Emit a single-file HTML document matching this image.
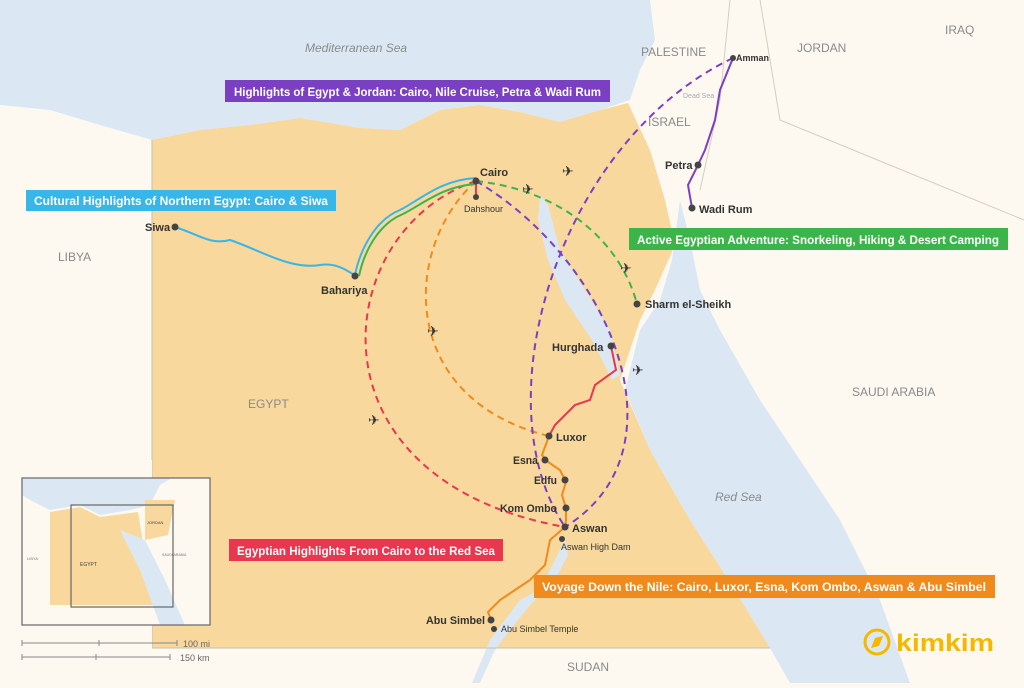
<!DOCTYPE html>
<html><head><meta charset="utf-8"><style>
body{margin:0;width:1024px;height:683px;overflow:hidden;background:#fdf9f1;font-family:"Liberation Sans",sans-serif}
svg text{font-family:"Liberation Sans",sans-serif}
.lb{font-weight:bold;font-size:11px;fill:#333}
.sm{font-size:9px;fill:#333}
.cn{font-size:12px;fill:#8a8a8a}
.box{font-weight:bold;font-size:12px;fill:#fff}
</style></head><body>
<svg width="1024" height="683" viewBox="0 0 1024 683">
<rect width="1024" height="683" fill="#fdf9f1"/>
<path d="M0,0 H650 L655,40 L640,70 L630,100 L600,110 L560,122 L520,112 L480,105 L440,110 L400,130 L360,128 L300,118 L250,125 L200,130 L152,140 L100,125 L50,110 L0,105 Z" fill="#dbe8f4"/>
<path d="M152,140 L200,130 L250,125 L300,118 L360,128 L400,130 L440,110 L480,105 L520,112 L560,122 L600,110 L628,103 L650,150 L665,200 L675,245 L655,290 L640,320 L620,380 L650,450 L690,520 L735,590 L770,648 L152,648 Z" fill="#f8d89d"/>
<path d="M540,195 L548,205 L560,250 L585,290 L610,330 L620,375 L612,380 L592,340 L565,300 L548,260 L538,220 Z" fill="#dbe8f4"/>
<path d="M680,200 L690,240 L700,290 L720,330 L760,400 L800,460 L840,520 L880,600 L910,683 L790,683 L770,648 L735,590 L690,520 L650,450 L625,390 L640,330 L660,300 L672,260 Z" fill="#dbe8f4"/>
<path d="M505,620 L520,600 L540,590 L555,560 L565,540 L568,555 L555,580 L530,605 L510,630 L495,650 L480,683 L472,683 L490,640 Z" fill="#dbe8f4"/>
<path d="M152,140 V648 H770" fill="none" stroke="#c8c0b0" stroke-width="1"/>
<path d="M730,0 L720,100 L700,190 M760,0 L780,120 L1024,220" fill="none" stroke="#d5cdbe" stroke-width="1"/>
<text x="305" y="52" class="cn" font-style="italic" fill="#999">Mediterranean Sea</text>
<text x="641" y="56" class="cn" font-size="11">PALESTINE</text>
<text x="648" y="126" class="cn" font-size="11">ISRAEL</text>
<text x="797" y="52" class="cn">JORDAN</text>
<text x="945" y="34" class="cn">IRAQ</text>
<text x="58" y="261" class="cn">LIBYA</text>
<text x="248" y="408" class="cn">EGYPT</text>
<text x="852" y="396" class="cn">SAUDI ARABIA</text>
<text x="715" y="501" class="cn" font-style="italic">Red Sea</text>
<text x="567" y="671" class="cn">SUDAN</text>
<text x="683" y="98" font-size="7" fill="#aaa">Dead Sea</text>

<g fill="none" stroke-width="2" stroke-dasharray="7,5">
<path d="M476,181 C330,230 300,480 565,527" stroke="#e8374f"/>
<path d="M476,181 C400,250 400,400 549,436" stroke="#f08a1c"/>
<path d="M476,181 C560,190 620,240 637,304" stroke="#3bb54a"/>
<path d="M476,181 C610,260 690,450 565,527" stroke="#7b3fc4"/>
<path d="M733,58 C560,140 480,400 565,527" stroke="#7b3fc4"/>
</g>
<g fill="none" stroke-width="2">
<path d="M175,227 C200,235 210,245 230,240 C260,250 290,270 320,265 C340,262 352,275 355,275" stroke="#38b6e8"/>
<path d="M355,275 C360,250 375,220 400,210 C420,200 440,180 476,178" stroke="#38b6e8"/>
<path d="M359,276 C364,252 378,224 403,214 C423,204 443,186 476,184" stroke="#3bb54a"/>
<path d="M476,181 L476,197" stroke="#e8374f"/>
<path d="M611,346 L616,370 L595,385 L590,400 L575,405 L555,425 L549,436" stroke="#e8374f"/>
<path d="M549,436 L542,455 L548,462 L560,470 L566,482 L562,495 L566,508 L566,520 L565,527 L550,540 L545,565 L530,580 L515,590 L500,600 L488,612 L491,620" stroke="#f08a1c"/>
<path d="M733,58 L720,90 L715,120 L705,150 L698,165 L688,185 L692,208" stroke="#7b3fc4"/>
</g>
<g font-size="14" fill="#333">
<text x="427" y="336">✈</text><text x="368" y="425">✈</text><text x="522" y="194">✈</text>
<text x="562" y="176">✈</text><text x="620" y="273">✈</text><text x="632" y="375">✈</text>
</g>
<g fill="#444">
<circle cx="175" cy="227" r="3.5"/><circle cx="355" cy="276" r="3.5"/><circle cx="476" cy="181" r="3.5"/>
<circle cx="476" cy="197" r="3"/><circle cx="637" cy="304" r="3.5"/><circle cx="611" cy="346" r="3.5"/>
<circle cx="549" cy="436" r="3.5"/><circle cx="545" cy="460" r="3.5"/><circle cx="565" cy="480" r="3.5"/>
<circle cx="566" cy="508" r="3.5"/><circle cx="565" cy="527" r="3.5"/><circle cx="562" cy="539" r="3"/>
<circle cx="491" cy="620" r="3.5"/><circle cx="494" cy="629" r="3"/>
<circle cx="733" cy="58" r="3"/><circle cx="698" cy="165" r="3.5"/><circle cx="692" cy="208" r="3.5"/>
</g>
<g>
<text x="145" y="231" class="lb">Siwa</text>
<text x="321" y="294" class="lb">Bahariya</text>
<text x="480" y="176" class="lb">Cairo</text>
<text x="464" y="212" class="sm">Dahshour</text>
<text x="645" y="308" class="lb">Sharm el-Sheikh</text>
<text x="552" y="351" class="lb">Hurghada</text>
<text x="556" y="441" class="lb">Luxor</text>
<text x="513" y="464" class="lb" textLength="25" lengthAdjust="spacingAndGlyphs">Esna</text>
<text x="534" y="484" class="lb" textLength="23" lengthAdjust="spacingAndGlyphs">Edfu</text>
<text x="500" y="512" class="lb" textLength="57" lengthAdjust="spacingAndGlyphs">Kom Ombo</text>
<text x="572" y="532" class="lb">Aswan</text>
<text x="561" y="550" class="sm">Aswan High Dam</text>
<text x="426" y="624" class="lb" textLength="59" lengthAdjust="spacingAndGlyphs">Abu Simbel</text>
<text x="501" y="632" class="sm">Abu Simbel Temple</text>
<text x="736" y="61" class="sm" font-weight="bold">Amman</text>
<text x="665" y="169" class="lb">Petra</text>
<text x="699" y="213" class="lb">Wadi Rum</text>
</g>
<rect x="225" y="80" width="385" height="22" fill="#7b3fc4"/>
<text x="234" y="96" class="box" textLength="367" lengthAdjust="spacingAndGlyphs">Highlights of Egypt &amp; Jordan: Cairo, Nile Cruise, Petra &amp; Wadi Rum</text>
<rect x="26" y="190" width="310" height="21" fill="#38b6e8"/>
<text x="34" y="205" class="box" textLength="294" lengthAdjust="spacingAndGlyphs">Cultural Highlights of Northern Egypt: Cairo &amp; Siwa</text>
<rect x="629" y="228" width="379" height="22" fill="#3bb54a"/>
<text x="637" y="244" class="box" textLength="362" lengthAdjust="spacingAndGlyphs">Active Egyptian Adventure: Snorkeling, Hiking &amp; Desert Camping</text>
<rect x="229" y="539" width="274" height="22" fill="#e8374f"/>
<text x="237" y="555" class="box" textLength="258" lengthAdjust="spacingAndGlyphs">Egyptian Highlights From Cairo to the Red Sea</text>
<rect x="534" y="575" width="461" height="23" fill="#f08a1c"/>
<text x="542" y="591" class="box" textLength="444" lengthAdjust="spacingAndGlyphs">Voyage Down the Nile: Cairo, Luxor, Esna, Kom Ombo, Aswan &amp; Abu Simbel</text>
<rect x="0" y="460" width="152" height="223" fill="#fdf9f1"/>
<rect x="22" y="478" width="188" height="147" fill="#fdf9f1"/>
<path d="M22,478 H172 L160,485 L150,505 L130,510 L100,515 L80,505 L50,510 L30,500 L22,495 Z" fill="#dbe8f4"/>
<path d="M50,512 L80,507 L100,517 L138,512 L145,555 L160,605 L50,605 Z" fill="#f8d89d"/>
<path d="M145,500 L175,500 L168,535 L145,540 Z" fill="#f8d89d"/>
<path d="M120,530 L140,570 L160,625 L185,625 L165,580 L145,540 Z" fill="#dbe8f4"/>
<rect x="22" y="478" width="188" height="147" fill="none" stroke="#666" stroke-width="1.2"/>
<rect x="71" y="505" width="102" height="102" fill="none" stroke="#666" stroke-width="1.2"/>
<text x="80" y="566" font-size="5" fill="#444">EGYPT</text>
<text x="147" y="524" font-size="4" fill="#444">JORDAN</text>
<text x="27" y="560" font-size="4" fill="#777">LIBYA</text>
<text x="162" y="556" font-size="3.5" fill="#777">SAUDI ARABIA</text>
<path d="M22,643 H177 M22,640 V646 M99,640 V646 M177,640 V646 M22,657 H170 M22,654 V660 M96,654 V660 M170,654 V660" stroke="#888" stroke-width="1"/>
<text x="183" y="647" font-size="9" fill="#666">100 mi</text>
<text x="180" y="661" font-size="9" fill="#666">150 km</text>
<circle cx="877" cy="642" r="12" fill="none" stroke="#f5b800" stroke-width="3"/>
<path d="M871,648 L875,638 L883,636 L879,646 Z" fill="#f5b800"/>
<text x="896" y="651" font-size="24" fill="#f5b800" font-weight="bold" textLength="98" lengthAdjust="spacingAndGlyphs">kimkim</text>
</svg>
</body></html>
